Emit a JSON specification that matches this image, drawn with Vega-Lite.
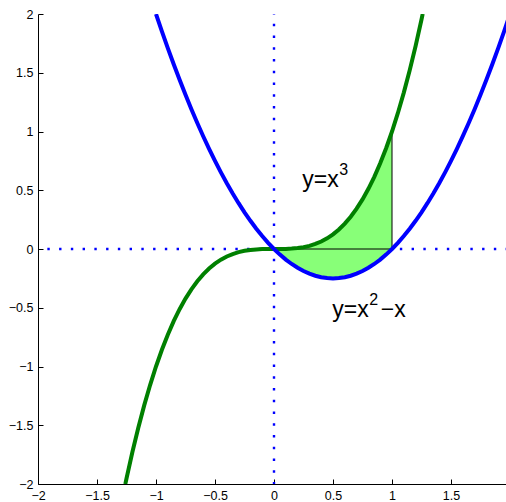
{
  "$schema": "https://vega.github.io/schema/vega-lite/v6.json",
  "width": 468,
  "height": 470,
  "autosize": {"type": "none"},
  "padding": {"left": 38, "top": 14, "right": 0, "bottom": 18},
  "config": {
    "view": {"stroke": null},
    "font": "Liberation Sans",
    "axis": {
      "grid": false,
      "domainColor": "black",
      "domainWidth": 1,
      "tickColor": "black",
      "tickWidth": 1,
      "tickSize": -5,
      "labelPadding": 10,
      "labelColor": "black",
      "labelFont": "Liberation Sans",
      "labelFontSize": 12.5,
      "title": null,
      "labelOverlap": false,
      "labelFlush": false
    }
  },
  "datasets": {
    "blue": [
      {"x": -1, "y": 2}, {"x": -0.95, "y": 1.8525}, {"x": -0.9, "y": 1.71}, {"x": -0.85, "y": 1.5725},
      {"x": -0.8, "y": 1.44}, {"x": -0.75, "y": 1.3125}, {"x": -0.7, "y": 1.19}, {"x": -0.65, "y": 1.0725},
      {"x": -0.6, "y": 0.96}, {"x": -0.55, "y": 0.8525}, {"x": -0.5, "y": 0.75}, {"x": -0.45, "y": 0.6525},
      {"x": -0.4, "y": 0.56}, {"x": -0.35, "y": 0.4725}, {"x": -0.3, "y": 0.39}, {"x": -0.25, "y": 0.3125},
      {"x": -0.2, "y": 0.24}, {"x": -0.15, "y": 0.1725}, {"x": -0.1, "y": 0.11}, {"x": -0.05, "y": 0.0525},
      {"x": 0, "y": 0}, {"x": 0.05, "y": -0.0475}, {"x": 0.1, "y": -0.09}, {"x": 0.15, "y": -0.1275},
      {"x": 0.2, "y": -0.16}, {"x": 0.25, "y": -0.1875}, {"x": 0.3, "y": -0.21}, {"x": 0.35, "y": -0.2275},
      {"x": 0.4, "y": -0.24}, {"x": 0.45, "y": -0.2475}, {"x": 0.5, "y": -0.25}, {"x": 0.55, "y": -0.2475},
      {"x": 0.6, "y": -0.24}, {"x": 0.65, "y": -0.2275}, {"x": 0.7, "y": -0.21}, {"x": 0.75, "y": -0.1875},
      {"x": 0.8, "y": -0.16}, {"x": 0.85, "y": -0.1275}, {"x": 0.9, "y": -0.09}, {"x": 0.95, "y": -0.0475},
      {"x": 1, "y": 0}, {"x": 1.05, "y": 0.0525}, {"x": 1.1, "y": 0.11}, {"x": 1.15, "y": 0.1725},
      {"x": 1.2, "y": 0.24}, {"x": 1.25, "y": 0.3125}, {"x": 1.3, "y": 0.39}, {"x": 1.35, "y": 0.4725},
      {"x": 1.4, "y": 0.56}, {"x": 1.45, "y": 0.6525}, {"x": 1.5, "y": 0.75}, {"x": 1.55, "y": 0.8525},
      {"x": 1.6, "y": 0.96}, {"x": 1.65, "y": 1.0725}, {"x": 1.7, "y": 1.19}, {"x": 1.75, "y": 1.3125},
      {"x": 1.8, "y": 1.44}, {"x": 1.85, "y": 1.5725}, {"x": 1.9, "y": 1.71}, {"x": 1.95, "y": 1.8525},
      {"x": 2, "y": 2}
    ],
    "green": [
      {"x": -1.26, "y": -2.000376}, {"x": -1.25, "y": -1.953125}, {"x": -1.2, "y": -1.728},
      {"x": -1.15, "y": -1.520875}, {"x": -1.1, "y": -1.331}, {"x": -1.05, "y": -1.157625},
      {"x": -1, "y": -1}, {"x": -0.95, "y": -0.857375}, {"x": -0.9, "y": -0.729},
      {"x": -0.85, "y": -0.614125}, {"x": -0.8, "y": -0.512}, {"x": -0.75, "y": -0.421875},
      {"x": -0.7, "y": -0.343}, {"x": -0.65, "y": -0.274625}, {"x": -0.6, "y": -0.216},
      {"x": -0.55, "y": -0.166375}, {"x": -0.5, "y": -0.125}, {"x": -0.45, "y": -0.091125},
      {"x": -0.4, "y": -0.064}, {"x": -0.35, "y": -0.042875}, {"x": -0.3, "y": -0.027},
      {"x": -0.25, "y": -0.015625}, {"x": -0.2, "y": -0.008}, {"x": -0.15, "y": -0.003375},
      {"x": -0.1, "y": -0.001}, {"x": -0.05, "y": -0.000125}, {"x": 0, "y": 0},
      {"x": 0.05, "y": 0.000125}, {"x": 0.1, "y": 0.001}, {"x": 0.15, "y": 0.003375},
      {"x": 0.2, "y": 0.008}, {"x": 0.25, "y": 0.015625}, {"x": 0.3, "y": 0.027},
      {"x": 0.35, "y": 0.042875}, {"x": 0.4, "y": 0.064}, {"x": 0.45, "y": 0.091125},
      {"x": 0.5, "y": 0.125}, {"x": 0.55, "y": 0.166375}, {"x": 0.6, "y": 0.216},
      {"x": 0.65, "y": 0.274625}, {"x": 0.7, "y": 0.343}, {"x": 0.75, "y": 0.421875},
      {"x": 0.8, "y": 0.512}, {"x": 0.85, "y": 0.614125}, {"x": 0.9, "y": 0.729},
      {"x": 0.95, "y": 0.857375}, {"x": 1, "y": 1}, {"x": 1.05, "y": 1.157625},
      {"x": 1.1, "y": 1.331}, {"x": 1.15, "y": 1.520875}, {"x": 1.2, "y": 1.728},
      {"x": 1.25, "y": 1.953125}, {"x": 1.26, "y": 2.000376}
    ],
    "fill": [
      {"x": 0, "top": 0, "bottom": 0}, {"x": 0.05, "top": 0.000125, "bottom": -0.0475},
      {"x": 0.1, "top": 0.001, "bottom": -0.09}, {"x": 0.15, "top": 0.003375, "bottom": -0.1275},
      {"x": 0.2, "top": 0.008, "bottom": -0.16}, {"x": 0.25, "top": 0.015625, "bottom": -0.1875},
      {"x": 0.3, "top": 0.027, "bottom": -0.21}, {"x": 0.35, "top": 0.042875, "bottom": -0.2275},
      {"x": 0.4, "top": 0.064, "bottom": -0.24}, {"x": 0.45, "top": 0.091125, "bottom": -0.2475},
      {"x": 0.5, "top": 0.125, "bottom": -0.25}, {"x": 0.55, "top": 0.166375, "bottom": -0.2475},
      {"x": 0.6, "top": 0.216, "bottom": -0.24}, {"x": 0.65, "top": 0.274625, "bottom": -0.2275},
      {"x": 0.7, "top": 0.343, "bottom": -0.21}, {"x": 0.75, "top": 0.421875, "bottom": -0.1875},
      {"x": 0.8, "top": 0.512, "bottom": -0.16}, {"x": 0.85, "top": 0.614125, "bottom": -0.1275},
      {"x": 0.9, "top": 0.729, "bottom": -0.09}, {"x": 0.95, "top": 0.857375, "bottom": -0.0475},
      {"x": 1, "top": 1, "bottom": 0}
    ],
    "edges": [
      {"x": 0, "x2": 1, "y": 0, "y2": 0},
      {"x": 1, "x2": 1, "y": 0, "y2": 1}
    ],
    "labels": [
      {"x": 0.24, "y": 0.525, "main": "y=x", "sup": "3", "tail": ""},
      {"x": 0.494, "y": -0.581, "main": "y=x", "sup": "2", "tail": "−x"}
    ],
    "origin": [{"v": 0}]
  },
  "layer": [
    {
      "data": {"name": "origin"},
      "mark": {"type": "rule", "color": "#0000ff", "strokeWidth": 2.4, "strokeDash": [2.4, 9.35], "strokeDashOffset": 2},
      "encoding": {
        "x": {"field": "v", "type": "quantitative", "scale": {"domain": [-2, 1.966], "nice": false, "zero": false},
              "axis": {"values": [-2, -1.5, -1, -0.5, 0, 0.5, 1, 1.5], "format": "~g"}}
      }
    },
    {
      "data": {"name": "origin"},
      "mark": {"type": "rule", "color": "#0000ff", "strokeWidth": 2.4, "strokeDash": [2.4, 9.35], "strokeDashOffset": 2},
      "encoding": {
        "y": {"field": "v", "type": "quantitative", "scale": {"domain": [-2, 2], "nice": false, "zero": false},
              "axis": {"values": [-2, -1.5, -1, -0.5, 0, 0.5, 1, 1.5, 2], "format": "~g"}}
      }
    },
    {
      "data": {"name": "fill"},
      "mark": {"type": "area", "color": "#88ff78", "opacity": 1},
      "encoding": {
        "x": {"field": "x", "type": "quantitative"},
        "y": {"field": "top", "type": "quantitative"},
        "y2": {"field": "bottom"}
      }
    },
    {
      "data": {"name": "edges"},
      "mark": {"type": "rule", "color": "black", "strokeWidth": 1},
      "encoding": {
        "x": {"field": "x", "type": "quantitative"},
        "x2": {"field": "x2"},
        "y": {"field": "y", "type": "quantitative"},
        "y2": {"field": "y2"}
      }
    },
    {
      "data": {"name": "green"},
      "mark": {"type": "line", "color": "#008000", "strokeWidth": 4, "clip": true},
      "encoding": {
        "x": {"field": "x", "type": "quantitative"},
        "y": {"field": "y", "type": "quantitative"},
        "order": {"field": "x"}
      }
    },
    {
      "data": {"name": "blue"},
      "mark": {"type": "line", "color": "#0000ff", "strokeWidth": 4, "clip": true},
      "encoding": {
        "x": {"field": "x", "type": "quantitative"},
        "y": {"field": "y", "type": "quantitative"},
        "order": {"field": "x"}
      }
    },
    {
      "data": {"name": "labels"},
      "mark": {"type": "text", "align": "left", "baseline": "alphabetic", "font": "Liberation Sans", "fontSize": 23, "color": "black"},
      "encoding": {
        "x": {"field": "x", "type": "quantitative"},
        "y": {"field": "y", "type": "quantitative"},
        "text": {"field": "main"}
      }
    },
    {
      "data": {"name": "labels"},
      "mark": {"type": "text", "align": "left", "baseline": "alphabetic", "font": "Liberation Sans", "fontSize": 16, "color": "black", "dx": 37, "dy": -12},
      "encoding": {
        "x": {"field": "x", "type": "quantitative"},
        "y": {"field": "y", "type": "quantitative"},
        "text": {"field": "sup"}
      }
    },
    {
      "data": {"name": "labels"},
      "mark": {"type": "text", "align": "left", "baseline": "alphabetic", "font": "Liberation Sans", "fontSize": 23, "color": "black", "dx": 48.5},
      "encoding": {
        "x": {"field": "x", "type": "quantitative"},
        "y": {"field": "y", "type": "quantitative"},
        "text": {"field": "tail"}
      }
    }
  ]
}
